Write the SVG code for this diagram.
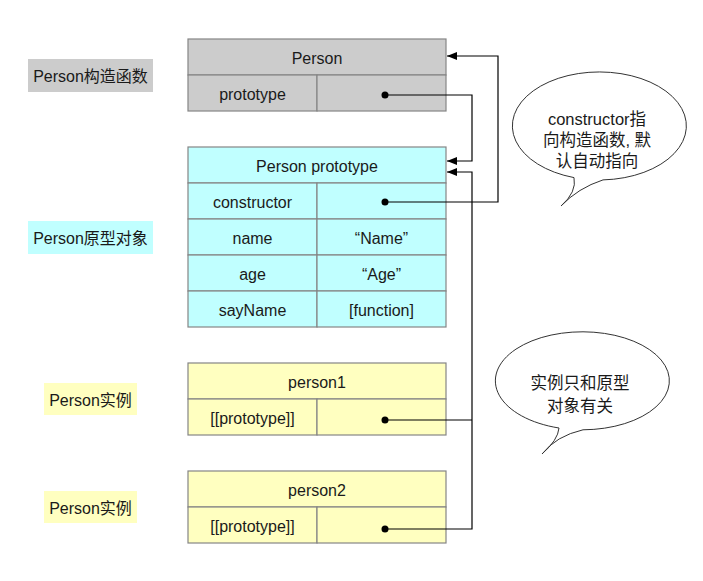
<svg xmlns="http://www.w3.org/2000/svg" width="703" height="581" viewBox="0 0 703 581">
<defs>
<style>
text{font-family:"Liberation Sans","Noto Sans CJK SC",Arial,sans-serif;font-size:16px;fill:#1a1a1a;text-anchor:middle}
.cell{stroke:#858585;stroke-width:1.2}
.g{fill:#cccccc}.c{fill:#c0ffff}.y{fill:#ffffc0}
.ln{fill:none;stroke:#000;stroke-width:1.2}
.dot{fill:#000}
.bub{fill:#fff;stroke:#333;stroke-width:1}
</style>
<marker id="ah" viewBox="0 0 10 8" refX="10" refY="4" markerWidth="10" markerHeight="8" markerUnits="userSpaceOnUse" orient="auto">
<path d="M0,0 L10,4 L0,8 Z" fill="#000"/>
</marker>
</defs>
<rect width="703" height="581" fill="#fff"/>

<g id="label-constructor"><rect x="28" y="59" width="125" height="33" class="g"/><text x="90.5" y="82">Person构造函数</text></g>
<g id="label-prototype"><rect x="28" y="221" width="125" height="33" class="c"/><text x="90.5" y="244">Person原型对象</text></g>
<g id="label-instance1"><rect x="44" y="383" width="93" height="32" class="y"/><text x="90.5" y="406">Person实例</text></g>
<g id="label-instance2"><rect x="44" y="491" width="93" height="32" class="y"/><text x="90.5" y="514">Person实例</text></g>

<g id="person">
<rect x="188" y="39" width="258" height="36" class="cell g"/>
<rect x="188" y="75" width="129" height="36" class="cell g"/>
<rect x="317" y="75" width="129" height="36" class="cell g"/>
<text x="317" y="64">Person</text>
<text x="252.5" y="100">prototype</text>
</g>

<g id="person-prototype">
<rect x="188" y="147" width="258" height="36" class="cell c"/>
<rect x="188" y="183" width="129" height="36" class="cell c"/><rect x="317" y="183" width="129" height="36" class="cell c"/>
<rect x="188" y="219" width="129" height="36" class="cell c"/><rect x="317" y="219" width="129" height="36" class="cell c"/>
<rect x="188" y="255" width="129" height="36" class="cell c"/><rect x="317" y="255" width="129" height="36" class="cell c"/>
<rect x="188" y="291" width="129" height="36" class="cell c"/><rect x="317" y="291" width="129" height="36" class="cell c"/>
<text x="317" y="172">Person prototype</text>
<text x="252.5" y="208">constructor</text>
<text x="252.5" y="244">name</text><text x="381.5" y="244">“Name”</text>
<text x="252.5" y="280">age</text><text x="381.5" y="280">“Age”</text>
<text x="252.5" y="316">sayName</text><text x="381.5" y="316">[function]</text>
</g>

<g id="person1">
<rect x="188" y="363" width="258" height="36" class="cell y"/>
<rect x="188" y="399" width="129" height="36" class="cell y"/>
<rect x="317" y="399" width="129" height="36" class="cell y"/>
<text x="317" y="388">person1</text>
<text x="252.5" y="424">[[prototype]]</text>
</g>

<g id="person2">
<rect x="188" y="471" width="258" height="36" class="cell y"/>
<rect x="188" y="507" width="129" height="36" class="cell y"/>
<rect x="317" y="507" width="129" height="36" class="cell y"/>
<text x="317" y="496">person2</text>
<text x="252.5" y="532">[[prototype]]</text>
</g>

<g id="connectors">
<polyline class="ln" points="385,202 498,202 498,56 447,56" marker-end="url(#ah)"/>
<polyline class="ln" points="385,95 472,95 472,161 447,161" marker-end="url(#ah)"/>
<polyline class="ln" points="385,529 472,529 472,172 447,172" marker-end="url(#ah)"/>
<line class="ln" x1="385" y1="420" x2="472" y2="420"/>
<circle class="dot" cx="385" cy="95" r="3.5"/>
<circle class="dot" cx="385" cy="202" r="3.5"/>
<circle class="dot" cx="385" cy="420" r="3.5"/>
<circle class="dot" cx="385" cy="529" r="3.5"/>
</g>

<g id="bubble-constructor">
<path class="bub" d="M574,177.6 A87 54 0 1 1 603,179.9 Q578,188 561,206 Q577,192 574,177.6 Z"/>
<text x="597" y="125" style="font-size:16.5px">constructor指</text>
<text x="597" y="146" style="font-size:16.5px">向构造函数, 默</text>
<text x="597" y="167" style="font-size:16.5px">认自动指向</text>
</g>

<g id="bubble-instance">
<path class="bub" d="M559,428 A87 49 0 1 1 583,429.8 Q556,436 542,454 Q558,440 559,428 Z"/>
<text x="580" y="389" style="font-size:16.5px">实例只和原型</text>
<text x="580" y="412" style="font-size:16.5px">对象有关</text>
</g>
</svg>
